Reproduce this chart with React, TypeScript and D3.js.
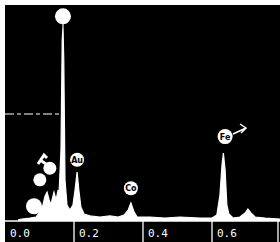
import * as d3 from "d3";
import React from "react";

// spectrum
const energy = [
  0.038, 0.049, 0.072, 0.09, 0.101, 0.11, 0.116, 0.122, 0.128, 0.133, 0.139, 0.142, 0.148, 0.154,
  0.1565, 0.1623, 0.1658, 0.1681, 0.1704, 0.1739, 0.1797, 0.188, 0.197, 0.203, 0.209, 0.214, 0.22, 0.229, 0.246,
  0.275, 0.304, 0.328, 0.345, 0.357, 0.365, 0.374, 0.383, 0.42, 0.464, 0.507, 0.565, 0.6, 0.614,
  0.623, 0.629, 0.633, 0.638, 0.643, 0.649, 0.661, 0.681, 0.696, 0.704, 0.713, 0.725, 0.754, 0.797,
];
const counts = [
  5, 9, 14, 19, 43, 76, 118, 137, 100, 76, 118, 137, 100, 147,
  123, 336, 858, 919, 763, 194, 76, 52, 76, 147, 232, 147, 66, 33, 24,
  19, 24, 19, 28, 52, 85, 43, 19, 19, 14, 19, 14, 14, 28,
  123, 265, 322, 242, 76, 33, 14, 19, 38, 57, 38, 19, 14, 9,
];
const tickValues = [0, 0.2, 0.4, 0.6];
const tickLabels = ["0.0", "0.2", "0.4", "0.6"];

// peak markers: [energy, counts above peak, radius, label]
const markerE = [0.168, 0.209, 0.365, 0.638, 0.084, 0.101, 0.13];
const markerC = [970, 290, 155, 400, 70, 195, 250];
const markerR = [8, 7, 7, 7.5, 8, 6.5, 6.5];
const markerText = ["", "Au", "Co", "Fe", "", "", ""];

const W = 280;
const H = 242;

export default function App() {
  const x = d3.scaleLinear().domain([0, 0.8]).range([5, 281]);
  const y = d3.scaleLinear().domain([0, 1000]).range([221, 10]);

  const pts: [number, number][] = energy.map((e, i) => [e, counts[i]]);
  const area = d3
    .area<[number, number]>()
    .x((d) => x(d[0]))
    .y0(y(0))
    .y1((d) => y(d[1]));
  const line = d3
    .line<[number, number]>()
    .x((d) => x(d[0]))
    .y((d) => y(d[1]));

  return (
    <svg
      width={W}
      height={H}
      style={{ position: "fixed", left: 0, top: 0, background: "#fff" }}
    >
      <rect x={5} y={5} width={W - 5} height={H - 5} fill="#000" />
      {/* dashed cursor line */}
      <line x1={5} x2={x(0.165)} y1={114} y2={114} stroke="#fff" strokeWidth={1.2} strokeDasharray="9 3 4 3" />
      <path d={area(pts) || ""} fill="#fff" />
      <path d={line(pts) || ""} fill="none" stroke="#fff" strokeWidth={1.2} />
      {/* main peak stem */}
      <line x1={x(0.168)} x2={x(0.168)} y1={y(920)} y2={y(940)} stroke="#fff" strokeWidth={1.2} />
      {/* baseline and bottom scale */}
      <line x1={5} x2={W} y1={221} y2={221} stroke="#fff" strokeWidth={1.5} />
      {tickValues.map((t, i) => (
        <g key={t}>
          {i > 0 && (
            <line x1={x(t)} x2={x(t)} y1={221} y2={H} stroke="#fff" strokeWidth={1.3} />
          )}
          <text
            x={x(t) + 5}
            y={237}
            fill="#fff"
            fontFamily="DejaVu Sans Mono, monospace"
            fontSize={11}
          >
            {tickLabels[i]}
          </text>
        </g>
      ))}
      <line x1={278} x2={278} y1={221} y2={H} stroke="#fff" strokeWidth={1.3} />
      {/* element markers */}
      {markerE.map((e, i) => (
        <g key={i}>
          <circle cx={x(e)} cy={y(markerC[i])} r={markerR[i]} fill="#fff" />
          <text
            x={x(e)}
            y={y(markerC[i]) + 3}
            textAnchor="middle"
            fontFamily="DejaVu Sans, sans-serif"
            fontSize={8}
            fontWeight="bold"
            fill="#000"
          >
            {markerText[i]}
          </text>
        </g>
      ))}
      {/* pointer arrows */}
      <path d="M38,164 L44,155 L47,158 M40,160 L46,164" stroke="#fff" strokeWidth={3} fill="none" />
      <path d="M233,134 L246,128 M240,124 L246,128 L241,133" stroke="#fff" strokeWidth={1.5} fill="none" />
    </svg>
  );
}
